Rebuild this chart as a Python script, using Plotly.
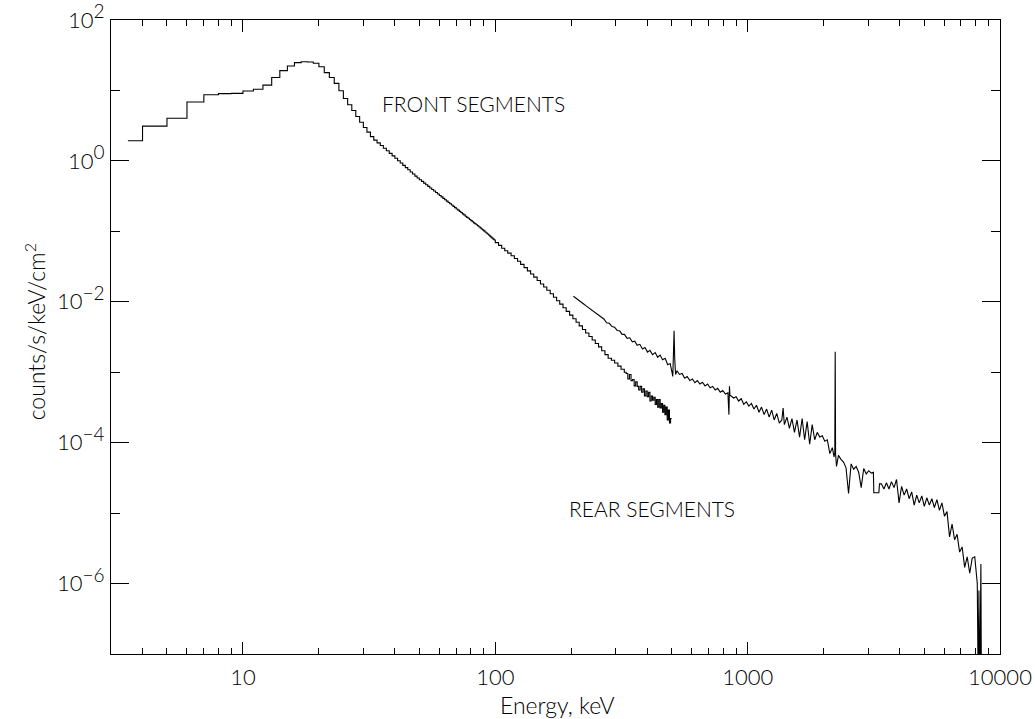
import math
import plotly.graph_objects as go

# ---- Front segments: histogram bin edges (keV) and count rates (counts/s/keV/cm^2)
front_edges = [
    3.5, 4, 5, 6, 7, 8, 9, 10, 11, 12, 13, 14, 15, 16, 17, 18, 19, 20,
    21, 22, 23, 24, 25, 26, 27, 28, 29, 30, 31, 32, 33, 34, 35, 36, 37, 38, 39, 40,
    41, 42, 43, 44, 45, 46, 47, 48, 49, 50, 51, 52, 53, 54, 55, 56, 57, 58, 59, 60,
    61, 62, 63, 64, 65, 66, 67, 68, 69, 70, 71, 72, 73, 74, 75, 76, 77, 78, 79, 80,
    81, 82, 83, 84, 85, 86, 87, 88, 89, 90, 91, 92, 93, 94, 95, 96, 97, 98, 99, 100,
    103, 106, 109, 112, 115.5, 119, 122.5, 126, 130, 134, 138, 142, 146.5, 151,
    155.5, 160, 165, 170, 175, 180, 185.5, 191, 197, 203, 209, 215, 221.5, 228,
    235, 242, 249, 256.5, 264, 272, 280, 288.5, 297, 306, 315, 324.5, 330,
    335, 340, 345, 350, 355, 360, 365, 370, 375, 380, 385, 390, 395, 400,
    405, 410, 415, 420, 425, 430, 435, 440, 445, 450, 455, 460, 465, 470,
    475, 480, 485, 490, 495, 500,
]
front_rate = [
    1.93, 3.12, 4.02, 6.84, 8.69, 9.0, 9.1, 9.8, 10.4, 11.9, 15.3, 19.1, 22.2,
    24.8, 25.6, 25.3, 24.3,
    21.7, 17.9, 15.3, 12.6, 9.9, 7.7, 6.25, 5.19, 4.27, 3.53,
    2.98, 2.56, 2.21, 1.97, 1.80, 1.65, 1.51, 1.39, 1.28, 1.18,
    1.09, 1.007, 0.933, 0.865, 0.803, 0.748, 0.697, 0.650, 0.608, 0.573,
    0.541, 0.512, 0.484, 0.458, 0.435, 0.412, 0.392, 0.373, 0.355, 0.338,
    0.322, 0.308, 0.294, 0.281, 0.268, 0.257, 0.246, 0.236, 0.226, 0.217,
    0.208, 0.200, 0.192, 0.185, 0.177, 0.171, 0.164, 0.158, 0.153, 0.147,
    0.142, 0.137, 0.132, 0.128, 0.124, 0.120, 0.116, 0.112, 0.108, 0.105,
    0.1014, 0.0979, 0.0946, 0.0915, 0.0885, 0.0856, 0.0828, 0.0801, 0.0776, 0.0752,
    0.0692, 0.0631, 0.0575, 0.0531, 0.0490, 0.0450, 0.0412, 0.0376, 0.0340,
    0.0305, 0.0275, 0.0248, 0.0224, 0.0200, 0.0179, 0.0162, 0.0146, 0.0130,
    0.0116, 0.01035, 0.00925, 0.00822, 0.00730, 0.00646, 0.00573, 0.00511,
    0.00455, 0.00405, 0.00360, 0.00321, 0.00286, 0.00256, 0.00229, 0.00202,
    0.00178, 0.00158, 0.00148, 0.00135, 0.00122, 0.00110, 0.00100,
    9.6e-4, 8.0e-4, 9.3e-4, 7.6e-4, 7.9e-4, 6.4e-4, 7.3e-4, 6.3e-4, 5.6e-4,
    6.3e-4, 5.2e-4, 5.8e-4, 4.6e-4, 5.4e-4, 4.5e-4, 5.2e-4, 3.9e-4, 4.6e-4,
    4.0e-4, 4.4e-4, 3.5e-4, 4.1e-4, 3.2e-4, 4.1e-4, 3.1e-4, 3.6e-4, 2.7e-4,
    3.4e-4, 2.5e-4, 3.2e-4, 2.1e-4, 2.9e-4, 1.9e-4, 2.2e-4,
]

# ---- Rear segments: channel energies (keV) and count rates
rear_energy = [
    204, 209, 214, 219, 224, 229, 234, 240, 246, 252, 258, 264, 270, 276, 283,
    290, 297, 304, 311, 318, 325, 333, 341, 349, 357, 365, 374, 383, 392, 401,
    410, 420, 430, 440, 450, 460, 471, 482, 493, 500, 505, 508, 511, 514, 518,
    525, 537, 550, 563, 576, 590, 604, 618, 632, 647, 662, 678, 694, 710, 727,
    744, 761, 779, 797, 816, 835, 843, 847, 851, 860, 880, 900, 921, 943, 965,
    988, 1011, 1035, 1059, 1084, 1109, 1135, 1162, 1189, 1217, 1245, 1274, 1304,
    1335, 1366, 1382, 1398, 1431, 1464, 1498, 1533, 1569, 1606, 1644, 1682, 1721,
    1761, 1802, 1844, 1887, 1931, 1976, 2022, 2069, 2117, 2166, 2200, 2215, 2223,
    2231, 2250, 2290, 2343, 2398, 2454, 2511, 2570, 2630, 2691, 2754, 2818, 2884,
    2951, 3020, 3090, 3150, 3162, 3236, 3311, 3330, 3388, 3467, 3548, 3631, 3715,
    3802, 3890, 3981, 4074, 4169, 4266, 4365, 4467, 4571, 4677, 4786, 4898, 5012,
    5129, 5248, 5370, 5495, 5623, 5754, 5888, 6026, 6166, 6310, 6457, 6607, 6761,
    6918, 7079, 7244, 7413, 7586, 7762, 7943, 8050, 8128, 8200, 8250, 8318, 8400,
    8450,
]
rear_rate = [
    0.0120, 0.0113, 0.0105, 0.0100, 0.00929, 0.00873, 0.00822, 0.00766, 0.00715,
    0.00668, 0.00625, 0.00587, 0.00565, 0.00503, 0.00495, 0.00445, 0.00436,
    0.00392, 0.00387, 0.00344, 0.00345, 0.00303, 0.00308, 0.00270, 0.00276,
    0.00241, 0.00249, 0.00214, 0.00224, 0.00193, 0.00204, 0.00177, 0.00190,
    0.00163, 0.00175, 0.00150, 0.00158, 0.00128, 0.00133, 0.00105, 0.00087,
    0.00178, 0.00389, 0.00158, 0.00093, 0.00105, 0.00093, 0.00096, 0.00082,
    0.00087, 0.00076, 0.00080, 0.00071, 0.00076, 0.00068, 0.00072, 0.00064,
    0.00068, 0.00060, 0.00063, 0.00056, 0.00059, 0.00052, 0.00055, 0.00049,
    0.00051, 0.00025, 0.00063, 0.00047, 0.00046, 0.00043, 0.00045, 0.00039,
    0.00042, 0.00035, 0.00038, 0.00033, 0.00036, 0.00030, 0.00034, 0.00027,
    0.00032, 0.00025, 0.00030, 0.00023, 0.00029, 0.00021, 0.00026, 0.00019,
    0.00021, 0.00031, 0.00018, 0.00023, 0.00016, 0.00022, 0.00014, 0.00021,
    0.00012, 0.00022, 0.00011, 0.00020, 0.000095, 0.00018, 0.00011, 0.00014,
    0.00012, 0.000125, 0.000105, 0.00011, 0.000070, 0.000085, 0.000063,
    0.000072, 0.00195, 0.000069, 0.000046, 0.000066, 0.000058, 0.000053,
    0.000044, 0.000019, 0.000050, 0.000042, 0.000046, 0.000038, 0.000023,
    0.000043, 0.000036, 0.000040, 0.000037, 0.000038, 0.0000195, 0.0000195,
    0.0000195, 0.000026, 0.000026, 0.000022, 0.000027, 0.000022, 0.000028,
    0.000023, 0.000030, 0.000014, 0.000024, 0.000018, 0.000022, 0.000016,
    0.000020, 0.000013, 0.000018, 0.000014, 0.0000175, 0.0000125, 0.0000165,
    0.000013, 0.000016, 0.000012, 0.0000155, 0.000011, 0.000014, 0.000009,
    0.0000105, 0.0000046, 0.000007, 0.0000042, 0.000005, 0.0000028, 0.0000033,
    0.0000017, 0.0000024, 0.0000014, 0.0000023, 0.0000024, 0.0000015, 0.000001,
    3e-8, 8e-7, 2e-8, 1.9e-6, 1e-8,
]

x_major = [10, 100, 1000, 10000]
x_major_text = ["10", "100", "1000", "10000"]
x_minor = [4, 5, 6, 7, 8, 9, 20, 30, 40, 50, 60, 70, 80, 90,
           200, 300, 400, 500, 600, 700, 800, 900,
           2000, 3000, 4000, 5000, 6000, 7000, 8000, 9000]
y_major = [1e2, 1e0, 1e-2, 1e-4, 1e-6]
y_exponents = ["2", "0", "\u22122", "\u22124", "\u22126"]
y_minor = [1e1, 1e-1, 1e-3, 1e-5, 1e-7]

FONT = "Lato, Liberation Sans, Arial, sans-serif"
TICK_SIZE = 22
INK = "black"

# decade labels with a near full-size raised exponent
y_major_text = [
    f'10<sup><span style="font-size:{TICK_SIZE - 3}px">{e}</span></sup>'
    for e in y_exponents
]

# histogram drawn as a step line: left edges plus the closing right edge
step_x = front_edges[:-1] + [front_edges[-1]]
step_y = front_rate + [front_rate[-1]]

fig = go.Figure()
fig.add_trace(go.Scatter(
    x=step_x, y=step_y, mode="lines",
    line=dict(color="black", width=1.1, shape="hv"),
    showlegend=False, hoverinfo="skip",
))
fig.add_trace(go.Scatter(
    x=rear_energy, y=rear_rate, mode="lines",
    line=dict(color="black", width=1.1),
    showlegend=False, hoverinfo="skip",
))

axis_common = dict(
    showline=True, linecolor="black", linewidth=1, mirror="ticks",
    ticks="inside", tickcolor="black", tickwidth=1,
    showgrid=False, zeroline=False, ticklabeloverflow="allow", automargin=False,
    tickfont=dict(family=FONT, size=TICK_SIZE, color=INK, weight=300),
)

fig.update_xaxes(
    type="log", range=[math.log10(3), 4],
    tickmode="array", tickvals=x_major, ticktext=x_major_text, ticklen=12,
    ticklabelstandoff=4,
    minor=dict(ticks="inside", ticklen=6, tickcolor="black", tickwidth=1,
               tickmode="array", tickvals=x_minor, showgrid=False),
    **axis_common,
)
fig.update_yaxes(
    type="log", range=[-7, 2],
    tickmode="array", tickvals=y_major, ticktext=y_major_text, ticklen=18,
    ticklabelstandoff=1,
    minor=dict(ticks="inside", ticklen=9, tickcolor="black", tickwidth=1,
               tickmode="array", tickvals=y_minor, showgrid=False),
    **axis_common,
)

label_font = dict(family=FONT, size=23, color=INK, weight=300)
note_font = dict(family=FONT, size=21, color=INK, weight=300)

fig.update_layout(
    width=1035, height=719,
    margin=dict(l=111, r=35, t=20, b=65, autoexpand=False),
    paper_bgcolor="white", plot_bgcolor="white",
    font=dict(family=FONT, size=21, color=INK),
    annotations=[
        dict(text="Energy, keV", xref="paper", yref="paper", x=0.502, y=-0.0804,
             xanchor="center", yanchor="middle", showarrow=False, font=label_font),
        dict(text="counts/s/keV/cm<sup>2</sup>", xref="paper", yref="paper",
             x=-0.0855, y=0.509, textangle=-90, xanchor="center", yanchor="middle",
             showarrow=False, font=label_font),
        dict(text="FRONT SEGMENTS", xref="x", yref="y", x=math.log10(34.9),
             y=math.log10(6.6), xanchor="left", yanchor="middle", showarrow=False,
             font=note_font),
        dict(text="REAR SEGMENTS", xref="x", yref="y", x=math.log10(192),
             y=math.log10(1.17e-5), xanchor="left", yanchor="middle", showarrow=False,
             font=note_font),
    ],
)

fig.write_html("out.html")
